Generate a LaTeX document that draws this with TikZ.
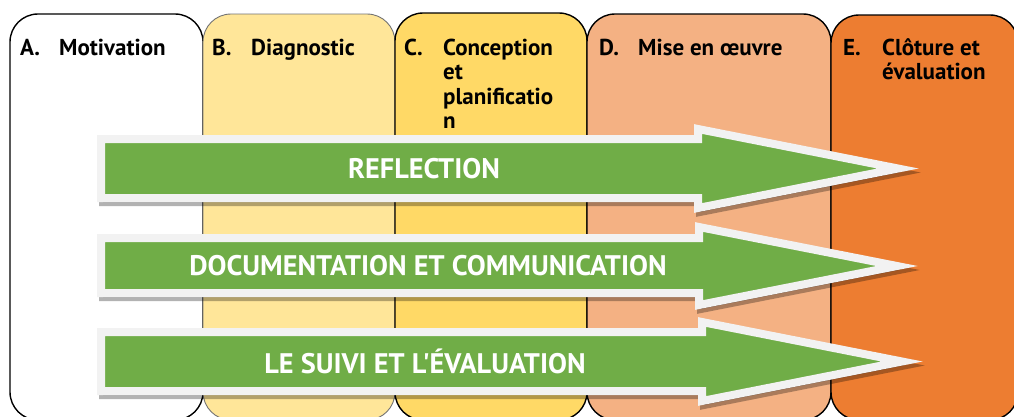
\documentclass[tikz,border=0pt]{standalone}
\usepackage{fontspec}
\setmainfont{PT Sans}[Ligatures=TeXOff]
\definecolor{agreen}{HTML}{70AD47}
\definecolor{aborder}{HTML}{F2F2F2}
\definecolor{bfill}{HTML}{FFE699}
\definecolor{cfill}{HTML}{FFD966}
\definecolor{dfill}{HTML}{F4B183}
\definecolor{efill}{HTML}{ED7D31}
\tikzset{
  phasebox/.style={draw=black, line width=1.4pt, rounded corners=28pt},
  lbl/.style={anchor=base west, inner sep=0pt, font=\bfseries\fontsize{23}{24}\selectfont, text=black},
  arrowbody/.style={fill=agreen, draw=aborder, line width=8pt, line join=miter, miter limit=10},
  arrowshadow/.style={fill=black, draw=black, line width=8pt, line join=miter, opacity=0.3},
  arrowtext/.style={inner sep=0pt, font=\bfseries\fontsize{28.3}{30}\selectfont, text=white}
}
\newcommand\greenarrow[7]{%
  % #1 top body, #2 bottom body, #3 head base x, #4 head top, #5 head bottom, #6 tip x, #7 tip y
  \path[arrowshadow] ([shift={(2,4)}]101,#1) -- ([shift={(2,4)}]#3,#1) -- ([shift={(2,4)}]#3,#4) -- ([shift={(2,4)}]#6,#7) -- ([shift={(2,4)}]#3,#5) -- ([shift={(2,4)}]#3,#2) -- ([shift={(2,4)}]101,#2) -- cycle;
  \path[arrowbody] (101,#1) -- (#3,#1) -- (#3,#4) -- (#6,#7) -- (#3,#5) -- (#3,#2) -- (101,#2) -- cycle;
}
\begin{document}
\begin{tikzpicture}[x=1pt,y=-1pt]
\useasboundingbox (0,0) rectangle (1014,416);
\fill[white] (0,0) rectangle (1014,416);
% phase boxes
\draw[phasebox, fill=white] (10,14) rectangle (203,420);
\draw[phasebox, fill=bfill, draw=black!55, line width=0.9pt] (203,14) rectangle (395,420);
\draw[phasebox, fill=cfill] (395,13) rectangle (587,420);
\draw[phasebox, fill=dfill] (587,14) rectangle (831,420);
\draw[phasebox, fill=efill] (831,15) rectangle (1018,420);
% labels
\node[lbl] (la) at (20,55) {A.};
\node[lbl] (lat) at (59,55) {Motivation};
\node[lbl] (lb) at (212,55) {B.};
\node[lbl] (lbt) at (251,55) {Diagnostic};
\node[lbl] (lc) at (404,55) {C.};
\node[lbl] (lct1) at (443,55) {Conception};
\node[lbl] (lct2) at (443,79.5) {et};
\node[lbl] (lct3) at (443,104) {planificatio};
\node[lbl] (lct4) at (443,128.5) {n};
\node[lbl] (ld) at (599,55) {D.};
\node[lbl] (ldt) at (638,55) {Mise en œuvre};
\node[lbl] (le) at (843,55) {E.};
\node[lbl] (let1) at (882,55) {Clôture et};
\node[lbl] (let2) at (882,79.5) {évaluation};
% arrows
\greenarrow{139}{198}{698}{129}{208}{898}{168.5}
\node[arrowtext] (t1) at (424,168.5) {REFLECTION};
\greenarrow{238}{293}{699}{227}{305}{897}{266}
\node[arrowtext] (t2) at (428,266) {DOCUMENTATION ET COMMUNICATION};
\greenarrow{332}{391}{702}{322}{401}{902}{361.5}
\node[arrowtext] (t3) at (425,361.5) {LE SUIVI ET L'ÉVALUATION};
\end{tikzpicture}
\end{document}
